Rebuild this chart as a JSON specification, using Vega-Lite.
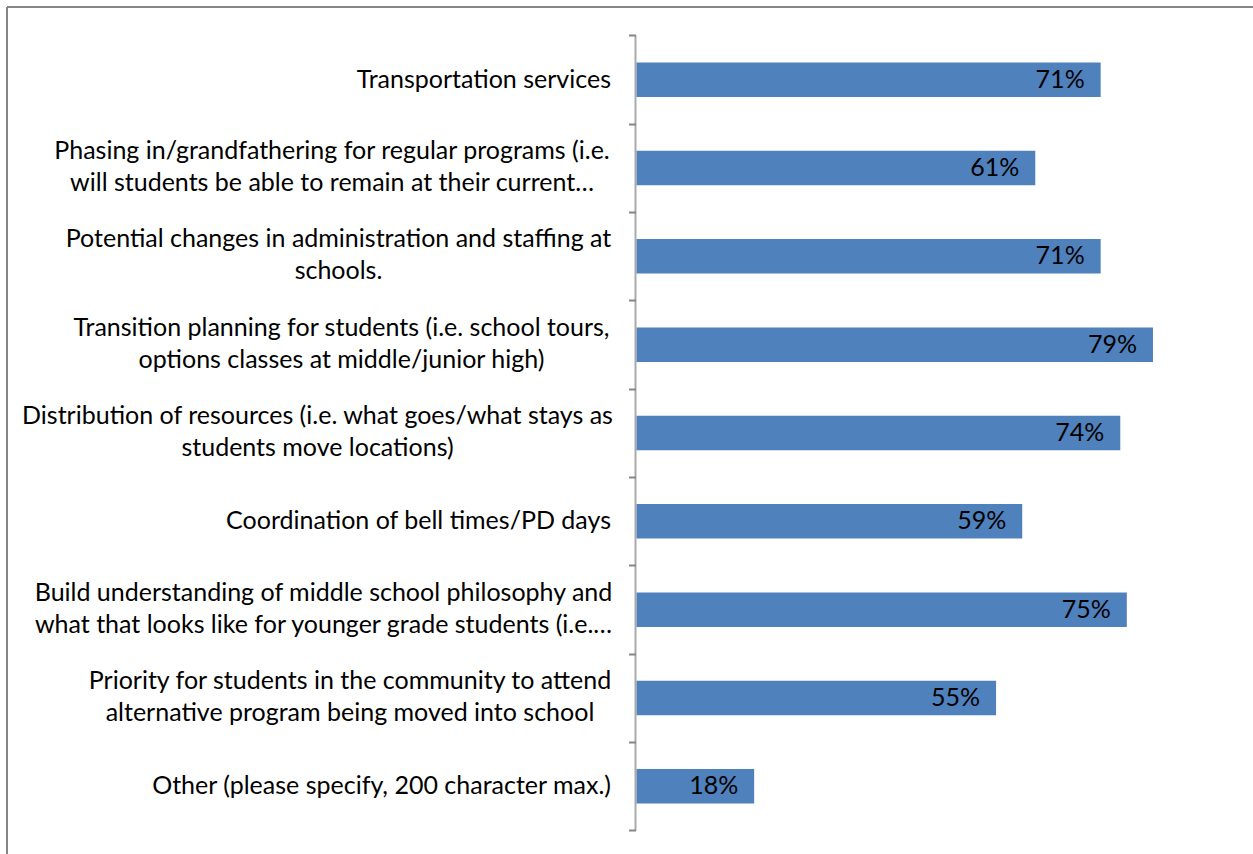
{
  "$schema": "https://vega.github.io/schema/vega-lite/v6.json",
  "width": 1247,
  "height": 848,
  "padding": {"left": 6, "top": 6, "right": 0, "bottom": 0},
  "autosize": {"type": "none"},
  "background": "white",
  "config": {"view": {"stroke": null}},
  "data": {
    "values": [
      {"item": "Transportation services", "pct": 0.71},
      {"item": "Phasing in/grandfathering for regular programs (i.e.\nwill students be able to remain at their current…", "pct": 0.61},
      {"item": "Potential changes in administration and staffing at\nschools.", "pct": 0.71},
      {"item": "Transition planning for students (i.e. school tours,\noptions classes at middle/junior high)", "pct": 0.79},
      {"item": "Distribution of resources (i.e. what goes/what stays as\nstudents move locations)", "pct": 0.74},
      {"item": "Coordination of bell times/PD days", "pct": 0.59},
      {"item": "Build understanding of middle school philosophy and\nwhat that looks like for younger grade students (i.e.…", "pct": 0.75},
      {"item": "Priority for students in the community to attend\nalternative program being moved into school", "pct": 0.55},
      {"item": "Other (please specify, 200 character max.)", "pct": 0.18}
    ]
  },
  "encoding": {
    "y": {
      "field": "item",
      "type": "nominal",
      "sort": null,
      "scale": {"type": "band", "paddingInner": 0, "paddingOuter": 0.3, "align": 0.5566}
    },
    "x": {
      "field": "pct",
      "type": "quantitative",
      "scale": {"domain": [-0.9644, 0.943], "nice": false, "zero": false}
    }
  },
  "layer": [
    {
      "mark": {"type": "bar", "height": {"band": 0.39}, "color": "#4F81BD"},
      "encoding": {
        "y": {
          "field": "item",
          "type": "nominal",
          "sort": null,
          "axis": {
            "orient": "left",
            "offset": -629.5,
            "title": null,
            "domain": false,
            "tickBand": "extent",
            "tickSize": 7,
            "tickWidth": 2,
            "tickColor": "#868686",
            "labels": false
          }
        },
        "x": {
          "field": "pct",
          "type": "quantitative",
          "axis": {
            "orient": "top",
            "title": null,
            "domain": true,
            "domainColor": "#868686",
            "domainWidth": 2,
            "ticks": false,
            "labels": false,
            "grid": false,
            "translate": 1
          }
        }
      }
    },
    {
      "mark": {"type": "text", "align": "right", "baseline": "middle", "dx": -16, "font": "Lato", "fontSize": 25, "color": "#000000"},
      "encoding": {
        "y": {"field": "item", "type": "nominal", "sort": null, "axis": null},
        "text": {"field": "pct", "type": "quantitative", "format": ".0%"}
      }
    },
    {
      "mark": {
        "type": "text",
        "baseline": "middle",
        "font": "Lato",
        "fontSize": 25,
        "color": "#000000",
        "lineBreak": "\n",
        "lineHeight": 32,
        "align": {"expr": "indexof(datum.item, '\\n') >= 0 ? 'center' : 'right'"},
        "dy": {"expr": "indexof(datum.item, '\\n') >= 0 ? -17 : 0"},
        "dx": {"expr": "indexof(datum.item, 'Phasing') === 0 ? -304.5 : indexof(datum.item, 'Potential') === 0 ? -298 : indexof(datum.item, 'Transition') === 0 ? -295 : indexof(datum.item, 'Distribution') === 0 ? -319 : indexof(datum.item, 'Build') === 0 ? -313 : indexof(datum.item, 'Priority') === 0 ? -286.5 : -25.5"}
      },
      "encoding": {
        "x": {"datum": 0},
        "y": {"field": "item", "type": "nominal", "sort": null, "axis": null},
        "text": {"field": "item", "type": "nominal"}
      }
    },
    {
      "mark": {"type": "tick", "size": 88.4, "thickness": 2, "color": "#868686", "xOffset": -1},
      "encoding": {
        "x": {"datum": 0},
        "y": {
          "field": "item",
          "type": "nominal",
          "sort": null,
          "axis": {
            "orient": "left",
            "offset": 0,
            "title": null,
            "domain": true,
            "domainColor": "#868686",
            "domainWidth": 2,
            "ticks": false,
            "labels": false,
            "grid": false,
            "translate": 1
          }
        }
      }
    }
  ],
  "resolve": {"axis": {"y": "independent"}}
}
